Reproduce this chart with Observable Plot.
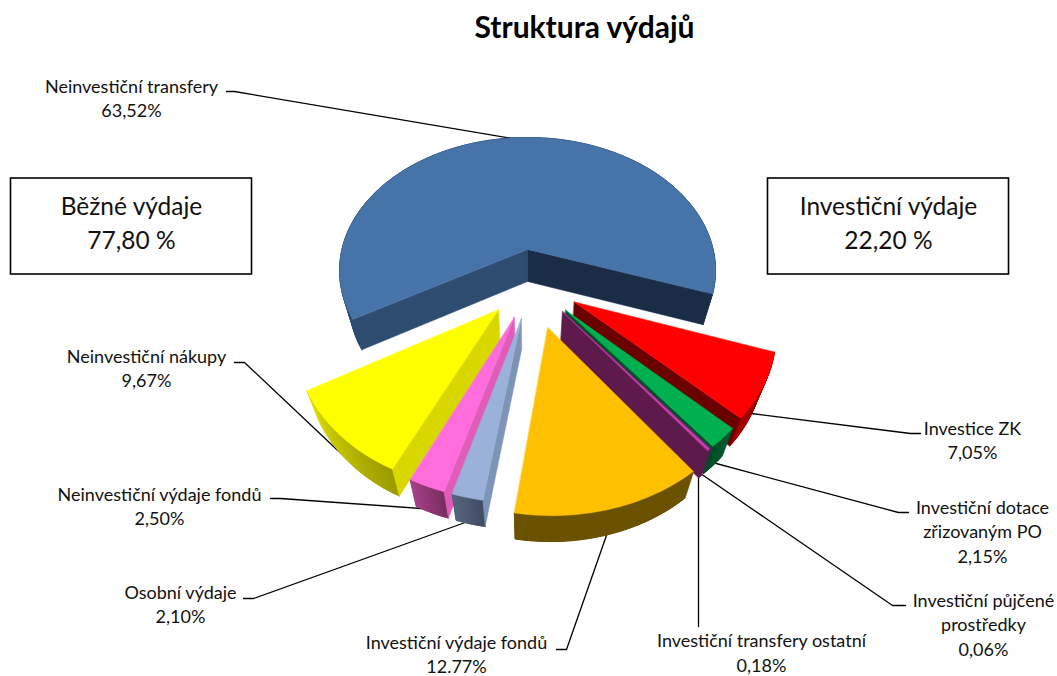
<!DOCTYPE html>
<html lang="cs">
<head>
<meta charset="utf-8">
<script src="https://cdn.jsdelivr.net/npm/d3@7"></script>
<script src="https://cdn.jsdelivr.net/npm/@observablehq/plot@0.6"></script>
<style>html,body{margin:0;padding:0;background:#fff}</style>
</head>
<body>
<div id="chart"></div>
<script>
// ---- data (clockwise, from the big slice) ----
const categories = ["Neinvestiční transfery","Investice ZK","Investiční dotace zřizovaným PO","Investiční půjčené prostředky","Investiční transfery ostatní","Investiční výdaje fondů","Osobní výdaje","Neinvestiční výdaje fondů","Neinvestiční nákupy"];
const values = [63.52,7.05,2.15,0.06,0.18,12.77,2.10,2.50,9.67];

// ---- colours, per slice ----
const topColors   = ["#4673a8","#ff0000","#00b050","#7a2a80","#cf3fb0","#ffc000","#9bb1d9","#ff6cdb","#ffff00"];
const startColors = ["#2e4c70","#6b0000","#005a2e","#5f1a4c","#5f1a4c","#6b5200","#7e94b6","#e05cb9","#d8d800"];
const endColors   = ["#1b2d46","#6b0000","#004f28","#5f1a4c","#5f1a4c","#6b5200","#7e94b6","#e05cb9","#d8d800"];
const wallFrom    = ["#2e4c70","#8a0000","#005a2e","#5f1a4c","#5f1a4c","#6b5200","#414d64","#7a2f60","#9a9a00"];
const wallTo      = ["#2e4c70","#a80000","#004a26","#5f1a4c","#5f1a4c","#6b5200","#586680","#a8408c","#dede00"];
const drawOrder   = [0,1,2,3,4,8,7,6,5];

// ---- pie view settings ----
const firstAngle = 240.2 * Math.PI / 180;
const pull = [0.25,0.25,0.25,0.25,0.25,0.31,0.25,0.25,0.25];
const pivot = [0.024,-0.249];
const view = {cx:527, cy:249, a:185.6, b:129.7, k:0.158};

const toScreen = (u,v) => {
  const w = 1 + view.k*v;
  return [view.cx + view.a*u/w, view.cy - view.b*v/w];
};
const lower = ([x,y]) => [x - 0.052*(x-view.cx), y + 32 - 0.0229*(y-view.cy)];
const cross = (o,p,q) => (p[0]-o[0])*(q[1]-o[1]) - (p[1]-o[1])*(q[0]-o[0]);

const arcs = d3.pie().sort(null).startAngle(firstAngle).endAngle(firstAngle + 2*Math.PI)(values);
const faces = [];
const addFace = (id,color,pts) => pts.forEach(([x,y]) => faces.push({id,color,x,y}));

drawOrder.forEach(i => {
  const {startAngle:a0,endAngle:a1} = arcs[i];
  const mid = (a0+a1)/2;
  const c = [pivot[0]+pull[i]*Math.sin(mid), pivot[1]+pull[i]*Math.cos(mid)];
  const at = t => toScreen(c[0]+Math.sin(t), c[1]+Math.cos(t));
  const n = Math.max(2, Math.ceil((a1-a0)*180/Math.PI));
  const ts = d3.range(n+1).map(j => a0+(a1-a0)*j/n);
  const apex = toScreen(c[0],c[1]);
  const mix = d3.interpolateRgb(wallFrom[i],wallTo[i]);
  // outer wall: one whole band first, then shaded pieces that overlap their neighbours
  addFace(`${i}-band`, mix(0.5), [...ts.map(at), ...ts.slice().reverse().map(t => lower(at(t)))]);
  for (let j=0;j<n;j++){
    const p=at(ts[j]), q=at(ts[Math.min(n,j+2)]);
    addFace(`${i}-w${j}`, mix(j/n), [p,at(ts[j+1]),q,lower(q),lower(at(ts[j+1])),lower(p)]);
  }
  // radial walls, only when they turn towards the viewer
  const inner = toScreen(c[0]+0.5*Math.sin(mid), c[1]+0.5*Math.cos(mid));
  const shows = t => cross(apex,at(t),lower(apex)) * cross(apex,at(t),inner) < 0;
  if (shows(a0)) addFace(`${i}-s`, startColors[i], [apex,at(a0),lower(at(a0)),lower(apex)]);
  if (shows(a1)) addFace(`${i}-e`, endColors[i], [apex,at(a1),lower(at(a1)),lower(apex)]);
  // top
  addFace(`${i}-t`, topColors[i], [apex,...ts.map(at)]);
});

// ---- annotation layout ----
const labels = [
  {t:"Neinvestiční transfery\n63,52%", x:131, y:96.5},
  {t:"Neinvestiční nákupy\n9,67%", x:146, y:366.5},
  {t:"Neinvestiční výdaje fondů\n2,50%", x:159, y:504.5},
  {t:"Osobní výdaje\n2,10%", x:180, y:602.5},
  {t:"Investiční výdaje fondů\n12.77%", x:456, y:652.5},
  {t:"Investiční transfery ostatní\n0,18%", x:761, y:651},
  {t:"Investiční půjčené\nprostředky\n0,06%", x:983, y:623},
  {t:"Investiční dotace\nzřizovaným PO\n2,15%", x:982, y:530},
  {t:"Investice ZK\n7,05%", x:972, y:438.5}
];
const leaders = [
  [[226,91],[234,91],[512,138]],
  [[234,362],[244,362],[350,462]],
  [[270,498],[280,498],[434,509]],
  [[243,598],[253,598],[473,519]],
  [[556,649],[566,649],[607,532]],
  [[698,626],[698,472]],
  [[905,605],[892,605],[700,473]],
  [[908,512],[898,512],[712,462]],
  [[920,433],[910,433],[751,413]]
].flatMap((pts,id) => pts.map(([x,y]) => ({id,x,y})));
const boxes = [
  {x1:10.5,x2:251.5,y1:178,y2:274,t:"Běžné výdaje\n77,80 %",cx:131},
  {x1:767.5,x2:1008.5,y1:178,y2:274,t:"Investiční výdaje\n22,20 %",cx:888}
];

const chart = Plot.plot({
  width:1057, height:676, margin:0,
  x:{domain:[0,1057],range:[0,1057],axis:null},
  y:{domain:[0,676],range:[0,676],axis:null},
  color:{type:"identity"},
  style:{fontFamily:"Lato, Carlito, sans-serif",background:"#fff",color:"#111"},
  marks:[
    Plot.line(leaders,{x:"x",y:"y",z:"id",stroke:"#000",strokeWidth:1.3}),
    Plot.line(faces,{x:"x",y:"y",z:"id",fill:"color",stroke:"color",strokeWidth:0.5,curve:"linear-closed"}),
    Plot.rect(boxes,{x1:"x1",x2:"x2",y1:"y1",y2:"y2",fill:"#fff",stroke:"#000",strokeWidth:1.6}),
    Plot.text(boxes,{x:"cx",y:d=>(d.y1+d.y2)/2-5,text:"t",fontSize:24.5,lineHeight:1.39,fill:"#111"}),
    Plot.text(labels,{x:"x",y:"y",text:"t",fontSize:18,lineHeight:1.38,fill:"#111"}),
    Plot.text(["Struktura výdajů"],{x:()=>584,y:()=>28,text:d=>d,fontSize:30,fontWeight:"bold",fill:"#000"})
  ]
});
document.getElementById("chart").append(chart);
</script>
</body>
</html>
